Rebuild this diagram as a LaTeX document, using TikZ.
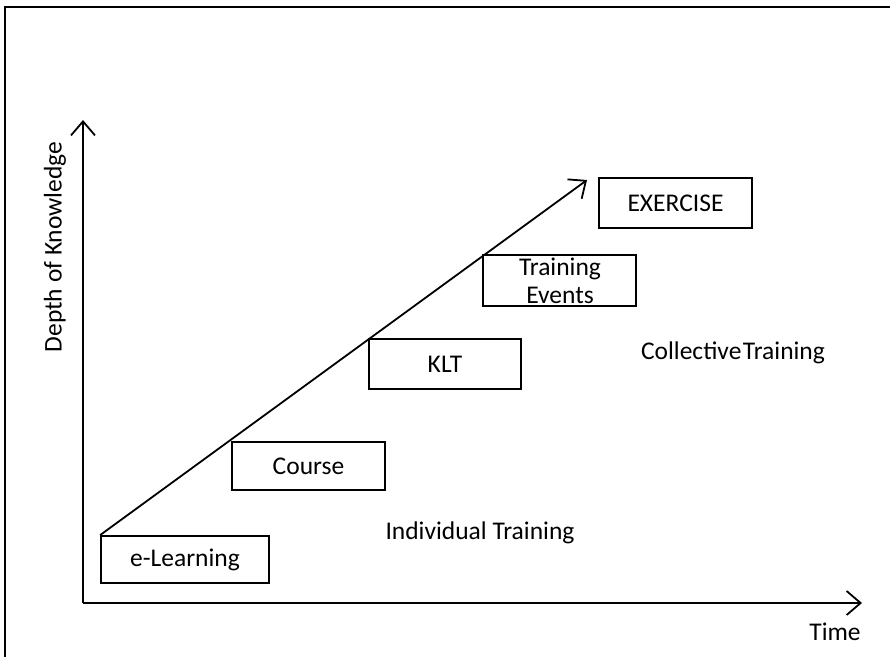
\documentclass[tikz,border=0pt]{standalone}
\usepackage{fontspec}
\setmainfont{Carlito}
\usetikzlibrary{arrows.meta}
\begin{document}
\begin{tikzpicture}[x=1pt,y=-1pt,
  txt/.style={font=\fontsize{25.5}{28}\selectfont, inner sep=0pt},
  box/.style={draw, line width=1.8pt, inner sep=0pt, font=\fontsize{25.5}{28}\selectfont},
  ln/.style={line width=1.8pt},
  tip/.style={-{Straight Barb[length=14pt,width=24pt,line width=1.8pt]}}
]
\useasboundingbox (0,0) rectangle (890,657);
% frame (top and left)
\draw[line width=1.8pt] (5,657) -- (5,7) -- (890,7);
% axes
\coordinate (o) at (83,603);
\coordinate (ytop) at (83,120);
\coordinate (xend) at (862,603);
\draw[ln,tip] (o) -- (ytop);
\draw[ln,tip] (o) -- (xend);
\node[txt] (time) at (835,632) {Time};
\node[txt, rotate=90] (depth) at (55,247) {Depth of Knowledge};
% boxes
\node[box, minimum width=168, minimum height=47] (el) at (185,559.5) {e-Learning};
\node[box, minimum width=153, minimum height=48] (co) at (308.5,466) {Course};
\node[box, minimum width=152, minimum height=50] (klt) at (445,364) {KLT};
\node[box, minimum width=153, minimum height=51] (te) at (559.5,280.5) {};
\node[txt, align=center, font=\fontsize{25.5}{28.5}\selectfont] (tel) at (560,281) {Training\\Events};
\node[box, minimum width=153, minimum height=50] (ex) at (675.5,203) {EXERCISE};
% diagonal
\coordinate (dtip) at (587,180);
\draw[ln,tip] (el.north west) -- (dtip);
% labels
\node[txt] (ind) at (480,533) {Individual Training};
\node[txt] (col) at (733,353) {Collective\hspace{0.06em}Training};
\end{tikzpicture}
\end{document}
